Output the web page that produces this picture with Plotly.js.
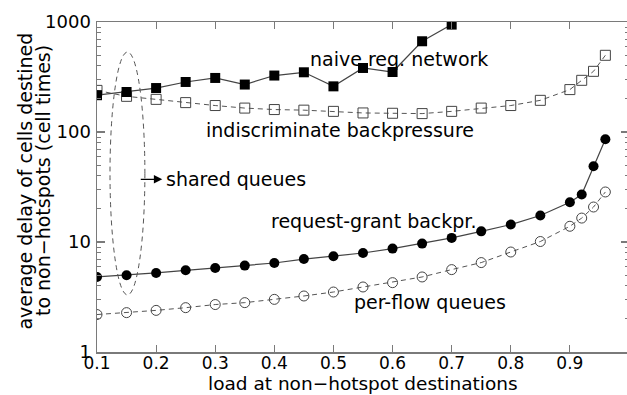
<!DOCTYPE html>
<html><head><meta charset="utf-8">
<script src="https://cdn.plot.ly/plotly-3.0.1.min.js"></script>
<style>html,body{margin:0;padding:0;overflow:hidden;background:#fff}#chart{width:630px;height:395px}</style>
</head><body><div id="chart"></div>
<script>
const naiveLoad = [0.1,0.15,0.2,0.25,0.3,0.35,0.4,0.45,0.5,0.55,0.6,0.65,0.7];
const naiveDelay = [216,231,251,285,310,270,326,349,260,382,351,668,947];
const load = [0.1,0.15,0.2,0.25,0.3,0.35,0.4,0.45,0.5,0.55,0.6,0.65,0.7,0.75,0.8,0.85,0.9,0.92,0.94,0.96];
const indiscDelay = [239,211,198,185,174,165,160,158,154,149,148,147,154,165,174,194,243,295,356,498];
const reqGrantDelay = [4.81,4.98,5.23,5.53,5.8,6.1,6.44,7.0,7.41,7.94,8.71,9.67,10.9,12.5,14.4,17.4,23,27,48.8,85.9];
const perFlowDelay = [2.19,2.28,2.39,2.53,2.7,2.81,3.01,3.23,3.51,3.9,4.27,4.81,5.61,6.5,8.11,10.1,13.9,16.5,20.8,28.5];
const xTickVals = [0.1,0.2,0.3,0.4,0.5,0.6,0.7,0.8,0.9];
const xTickText = ['0.1','0.2','0.3','0.4','0.5','0.6','0.7','0.8','0.9'];
const yTickVals = [1,10,100,1000];
const yTickText = ['1','10','100','1000'];

const FONT = 'DejaVu Sans';
const AX = '#7a7a7a';
const dashPat = '5px,4px';

const traces = [
  {x: load, y: indiscDelay, mode: 'lines+markers', type: 'scatter',
   line: {color: '#555', width: 1, dash: dashPat},
   marker: {symbol: 'square-open', size: 10, color: '#444', line: {width: 1, color: '#444'}}},
  {x: load, y: perFlowDelay, mode: 'lines+markers', type: 'scatter',
   line: {color: '#555', width: 1, dash: dashPat},
   marker: {symbol: 'circle-open', size: 10, color: '#444', line: {width: 1, color: '#444'}}},
  {x: naiveLoad, y: naiveDelay, mode: 'lines+markers', type: 'scatter',
   line: {color: '#444', width: 1.2},
   marker: {symbol: 'square', size: 10, color: '#000'}},
  {x: load, y: reqGrantDelay, mode: 'lines+markers', type: 'scatter',
   line: {color: '#444', width: 1.2},
   marker: {symbol: 'circle', size: 10, color: '#000'}}
];

function lbl(text, x, ylog, xanchor) {
  return {text: text, x: x, y: ylog, xref: 'x', yref: 'y', showarrow: false,
    xanchor: xanchor || 'center', yanchor: 'middle', font: {family: FONT, size: 19, color: '#000'}};
}

const layout = {
  width: 630, height: 395,
  margin: {l: 97, r: 1, t: 22, b: 43},
  paper_bgcolor: '#fff', plot_bgcolor: '#fff',
  showlegend: false,
  font: {family: FONT, color: '#000'},
  xaxis: {
    range: [0.1, 1.0], tickmode: 'array', tickvals: xTickVals, ticktext: xTickText,
    ticks: 'inside', ticklen: 7, tickwidth: 1.2, tickcolor: AX,
    showline: true, linecolor: AX, linewidth: 1.5, mirror: 'ticks',
    showgrid: false, zeroline: false, ticklabelstandoff: -5,
    tickfont: {family: FONT, size: 17, color: '#000'}
  },
  yaxis: {
    type: 'log', range: [0, 3], tickmode: 'array', tickvals: yTickVals, ticktext: yTickText,
    ticks: 'inside', ticklen: 8, tickwidth: 1.2, tickcolor: AX,
    minor: {ticks: 'inside', ticklen: 4, tickwidth: 1, tickcolor: AX, dtick: 'D1', showgrid: false},
    showline: true, linecolor: AX, linewidth: 1.5, mirror: 'ticks',
    showgrid: false, zeroline: false, ticklabelstandoff: 1,
    tickfont: {family: FONT, size: 18, color: '#000'}
  },
  shapes: [
    {type: 'circle', xref: 'x', yref: 'paper', x0: 0.122, x1: 0.181, y0: 0.173, y1: 0.909,
     line: {color: '#555', width: 1, dash: dashPat}}
  ],
  annotations: [
    {text: 'load at non\u2212hotspot destinations', xref: 'paper', yref: 'paper', x: 0.5, y: -0.094,
     showarrow: false, xanchor: 'center', yanchor: 'middle', font: {family: FONT, size: 18.5, color: '#000'}},
    {text: 'average delay of cells destined', xref: 'paper', yref: 'paper', x: -0.1344, y: 0.518,
     textangle: -90, showarrow: false, xanchor: 'center', yanchor: 'middle', font: {family: FONT, size: 19, color: '#000'}},
    {text: 'to non\u2212hotspots (cell times)', xref: 'paper', yref: 'paper', x: -0.1015, y: 0.518,
     textangle: -90, showarrow: false, xanchor: 'center', yanchor: 'middle', font: {family: FONT, size: 19, color: '#000'}},
    lbl('naive req. network', 0.611, 2.661),
    lbl('indiscriminate backpressure', 0.511, 2.015),
    lbl('shared queues', 0.2138, 1.57, 'left'),
    lbl('request-grant backpr.', 0.567, 1.188),
    lbl('per-flow queues', 0.663, 0.452),
    {text: '', x: 0.2104, y: 1.57, xref: 'x', yref: 'y', showarrow: true, ax: -23, ay: 0,
     arrowhead: 2, arrowsize: 1.4, arrowwidth: 1.2, arrowcolor: '#000'}
  ]
};

Plotly.newPlot('chart', traces, layout, {displayModeBar: false, staticPlot: true});
</script>
</body></html>
